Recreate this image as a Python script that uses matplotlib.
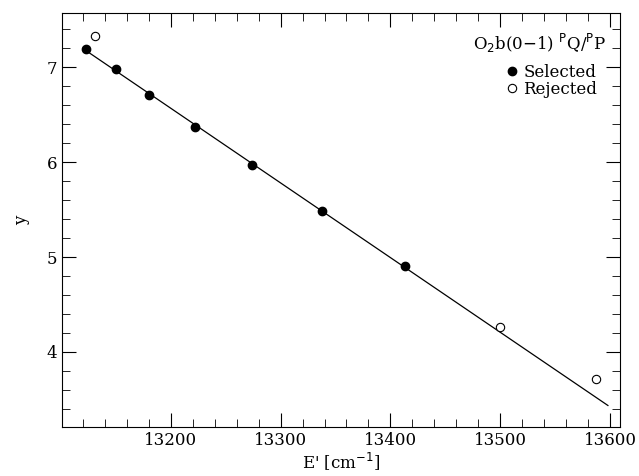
import numpy as np
import matplotlib.pyplot as plt
from matplotlib.ticker import MultipleLocator

# selected points
sel_x = [13123, 13150, 13180, 13222, 13274, 13338, 13413]
sel_y = [7.19, 6.98, 6.71, 6.37, 5.97, 5.48, 4.91]
# rejected points
rej_x = [13131, 13500, 13587]
rej_y = [7.33, 4.26, 3.72]
fit_range = [13120, 13598]

plt.rcParams['font.family'] = 'DejaVu Serif'
fig = plt.figure(figsize=(6.39, 4.76), dpi=100)
ax = fig.add_axes([62 / 639, 49 / 476, 558 / 639, 414 / 476])

coef = np.polyfit(sel_x, sel_y, 1)
fx = np.array(fit_range)
ax.plot(fx, np.polyval(coef, fx), color='black', lw=0.9)
ax.plot(sel_x, sel_y, 'o', color='black', ms=6, label='Selected')
ax.plot(rej_x, rej_y, 'o', mfc='white', mec='black', mew=0.8, ms=6, label='Rejected')

ax.set_xlim(13101, 13609)
ax.set_ylim(3.21, 7.57)
ax.xaxis.set_major_locator(MultipleLocator(100))
ax.xaxis.set_minor_locator(MultipleLocator(20))
ax.yaxis.set_major_locator(MultipleLocator(1))
ax.yaxis.set_minor_locator(MultipleLocator(0.2))
ax.tick_params(which='both', direction='in', top=True, right=True, labelsize=12)
ax.tick_params(which='major', length=10)
ax.tick_params(which='minor', length=6)
ax.set_xlabel("E' [cm$^{-1}$]", fontsize=12, labelpad=1)
ax.set_ylabel('y', fontsize=12, labelpad=12)

ax.text(0.975, 0.955, r'O$_2$b(0$-$1) $^{\rm P}$Q/$^{\rm P}$P', transform=ax.transAxes,
        ha='right', va='top', fontsize=12)
ax.legend(loc='upper left', bbox_to_anchor=(0.77, 0.905), frameon=False, fontsize=12,
          handletextpad=0.2, borderpad=0.2, labelspacing=0.0, handlelength=1.0)

fig.savefig('out.png')
